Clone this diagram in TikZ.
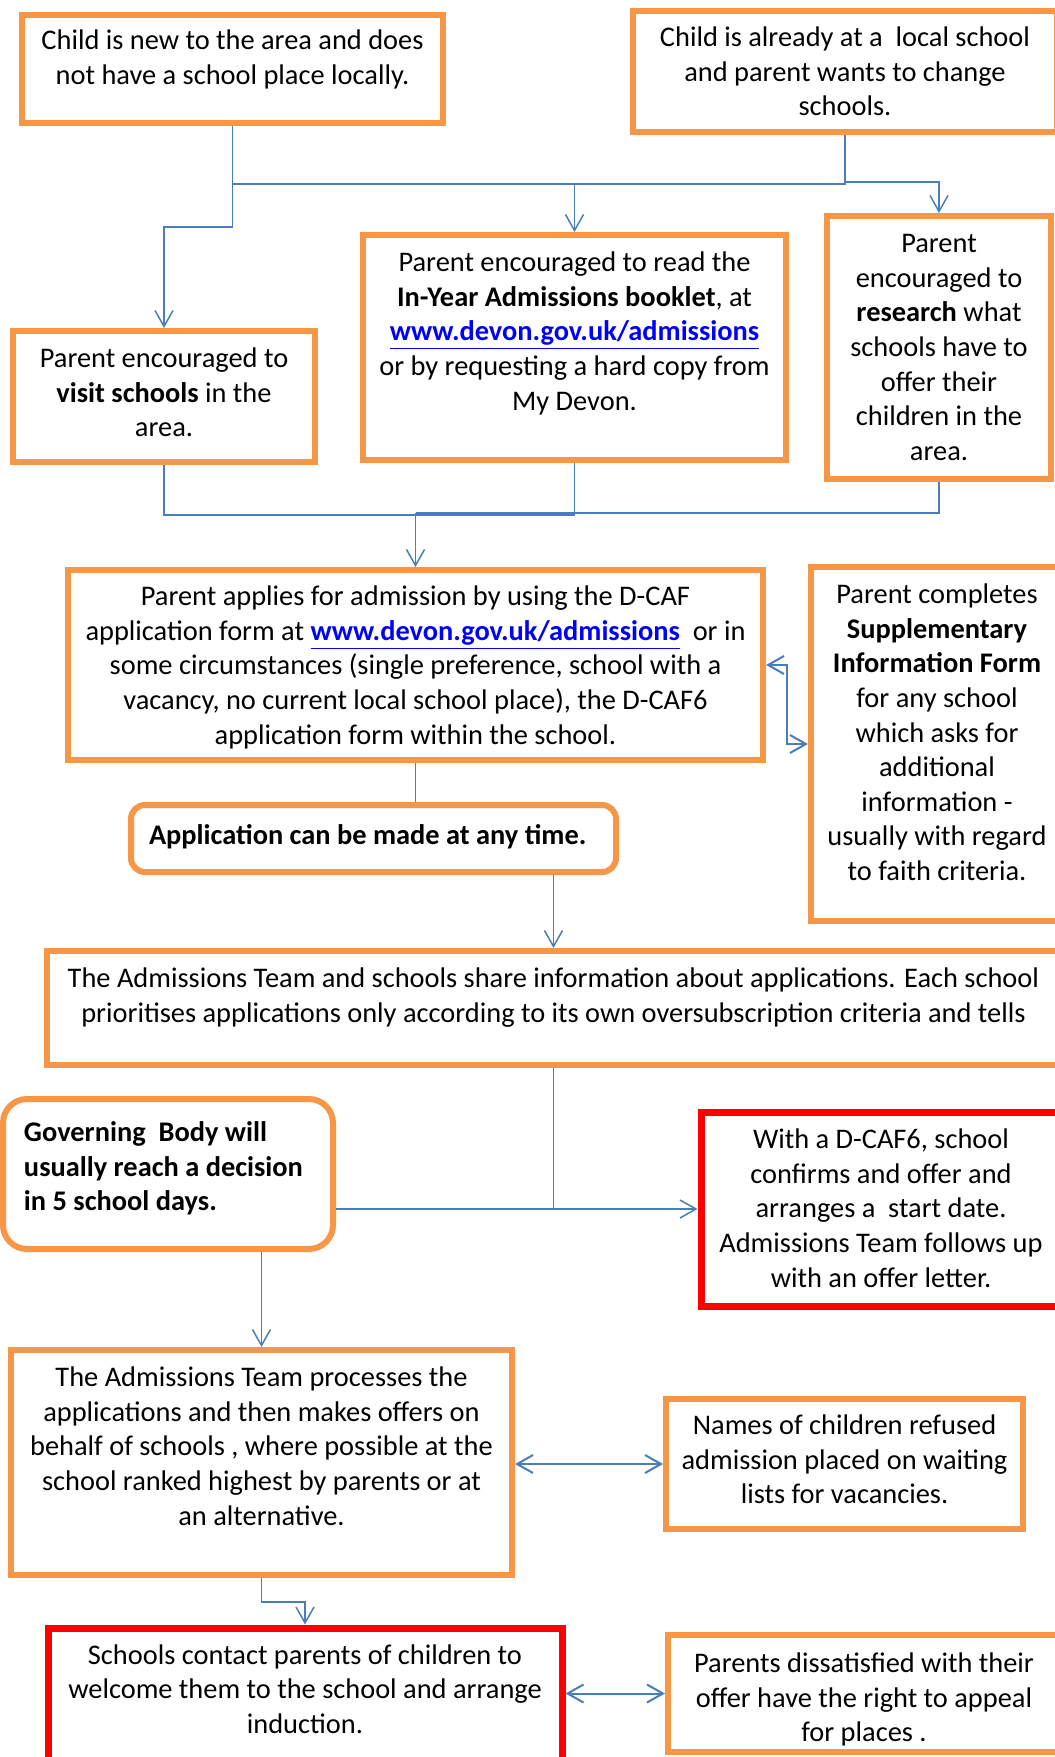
\documentclass[tikz,border=0pt]{standalone}
\usepackage{fontspec}
\setmainfont{Carlito}
\usetikzlibrary{arrows.meta}
\definecolor{obord}{HTML}{F79646}
\definecolor{rbord}{HTML}{FF0000}
\definecolor{lblue}{HTML}{4A7EBB}
\definecolor{linkblue}{HTML}{0000FF}
\newcommand\lnk[1]{\textcolor{linkblue}{\underline{\textbf{#1}}}}
\newcommand\bx[8]{%
  \pgfmathsetmacro\bxw{(#5-#3)*0.5}%
  \pgfmathsetmacro\bxh{(#6-#4)*0.5}%
  \pgfmathsetmacro\bxp{(#7)*0.5}%
  \node[#2, minimum width=\bxw pt, minimum height=\bxh pt, inner sep=0pt] (#1) at ({(#3+#5)/2},{(#4+#6)/2}) {\parbox[c][\bxh pt][t]{\bxw pt}{\vspace*{\bxp pt}#8\par}};%
}
\newcommand\mycent{\centering\strut}
\newcommand\myleftA{\raggedright\leftskip=9pt\relax\strut}
\newcommand\myleftB{\raggedright\leftskip=10.5pt\relax\strut}
\begin{document}
\begin{tikzpicture}[x=0.5pt,y=-0.5pt,
  every node/.style={font=\fontsize{14.2pt}{17.3pt}\selectfont},
  obox/.style={draw=obord, line width=3pt, fill=white},
  rbox/.style={draw=rbord, line width=3.5pt, fill=white},
  robox/.style={draw=obord, line width=3pt, fill=white, rounded corners=7pt},
  rrbox/.style={draw=obord, line width=3pt, fill=white, rounded corners=12pt},
  conn/.style={draw=lblue, line width=0.75pt},
  arr/.style={conn, -{Straight Barb[length=8pt,width=9pt]}},
  darr/.style={draw=lblue, line width=1pt, {Straight Barb[length=8pt,width=9pt]}-{Straight Barb[length=8pt,width=9pt]}}]
\useasboundingbox (0,0) rectangle (1055,1757);
\clip (0,0) rectangle (1055,1757);
\fill[white] (0,0) rectangle (1055,1757);

\bx{A}{obox}{22}{15}{443}{123}{10.5}{\mycent Child is new to the area and does\\not have a school place locally.}
\bx{B}{obox}{633}{11}{1057}{132}{11.5}{\mycent Child is already at a~ local school\\and parent wants to change\\schools.}
\bx{C}{obox}{363}{235}{786}{460}{12.5}{\mycent Parent encouraged to read the\\\textbf{In-Year Admissions booklet}, at\\\lnk{www.devon.gov.uk/admissions}\\or by requesting a hard copy from\\My Devon.}
\bx{D}{obox}{827}{216}{1051}{479}{12.5}{\mycent Parent\\encouraged to\\\textbf{research} what\\schools have to\\offer their\\children in the\\area.}
\bx{V}{obox}{13}{331}{315}{462}{12.5}{\mycent Parent encouraged to\\\textbf{visit schools} in the\\area.}
\bx{E}{obox}{68}{570}{763}{760}{11.5}{\mycent Parent applies for admission by using the D-CAF\\application form at \lnk{www.devon.gov.uk/admissions}~ or in\\some circumstances (single preference, school with a\\vacancy, no current local school place), the D-CAF6\\application form within the school.}
\bx{F}{obox}{811}{567}{1063}{921}{12.5}{\mycent Parent completes\\\textbf{Supplementary}\\\textbf{Information Form}\\for any school\\which asks for\\additional\\information -\\usually with regard\\to faith criteria.}
\bx{G}{robox}{131}{805}{616}{872}{15}{\myleftA\textbf{Application can be made at any time.}}
\bx{H}{obox}{47}{951}{1060}{1065}{12.5}{\mycent The Admissions Team and schools share information about applications. Each school\\prioritises applications only according to its own oversubscription criteria and tells}
\bx{I}{rrbox}{3}{1099}{333}{1249}{18.5}{\myleftB\textbf{Governing~ Body will}\\\textbf{usually reach a decision}\\\textbf{in 5 school days.}}
\bx{J}{rbox}{701}{1112}{1061}{1306}{12.5}{\mycent With a D-CAF6, school\\confirms and offer and\\arranges a~ start date.\\Admissions Team follows up\\with an offer letter.}
\bx{K}{obox}{11}{1350}{512}{1575}{12.5}{\mycent The Admissions Team processes the\\applications and then makes offers on\\behalf of schools , where possible at the\\school ranked highest by parents or at\\an alternative.}
\bx{L}{obox}{666}{1399}{1023}{1529}{11.5}{\mycent Names of children refused\\admission placed on waiting\\lists for vacancies.}
\bx{M}{rbox}{48}{1628}{562}{1770}{12}{\mycent Schools contact parents of children to\\welcome them to the school and arrange\\induction.}
\bx{N}{obox}{668}{1635}{1060}{1752}{13.5}{\mycent Parents dissatisfied with their\\offer have the right to appeal\\for places .}

% connectors
\coordinate (j1) at (232.5,184);
\coordinate (j2) at (574.5,184);
\coordinate (j3) at (232.5,227);
\coordinate (jB) at (845,182);
\draw[conn] (A.south) -- (j1) -- (j2);
\draw[arr] (j2) -- (C.north);
\draw[conn] (B.south) |- (j2);
\draw[arr] (jB) -| (D.north);
\draw[arr] (j1) -- (j3) -| (V.north);

\coordinate (m1) at (574.5,515);
\coordinate (m2) at (415.5,513);
\draw[conn] (V.south) |- (m1) -- (C.south);
\draw[conn] (D.south) |- (m2);
\draw[arr] (m2) -- (E.north);

\coordinate (ef) at (787,665);
\draw[darr] (E.east) -- (ef) |- (F.west);
\draw[conn] (E.south) -- (E.south |- G.north);
\draw[arr] (G.south -| H.north) -- (H.north);

\coordinate (hj) at (H.south |- J.west);
\draw[arr] (H.south) -- (hj) -- (J.west);
\draw[conn] (I.east |- J.west) -- (hj);
\draw[arr] (I.south -| K.north) -- (K.north);
\draw[darr] (K.east |- L.west) -- (L.west);

\coordinate (km) at (261.5,1602);
\draw[arr] (K.south) -- (km) -| (M.north);
\draw[darr] (M.east |- N.west) -- (N.west);
\end{tikzpicture}
\end{document}
